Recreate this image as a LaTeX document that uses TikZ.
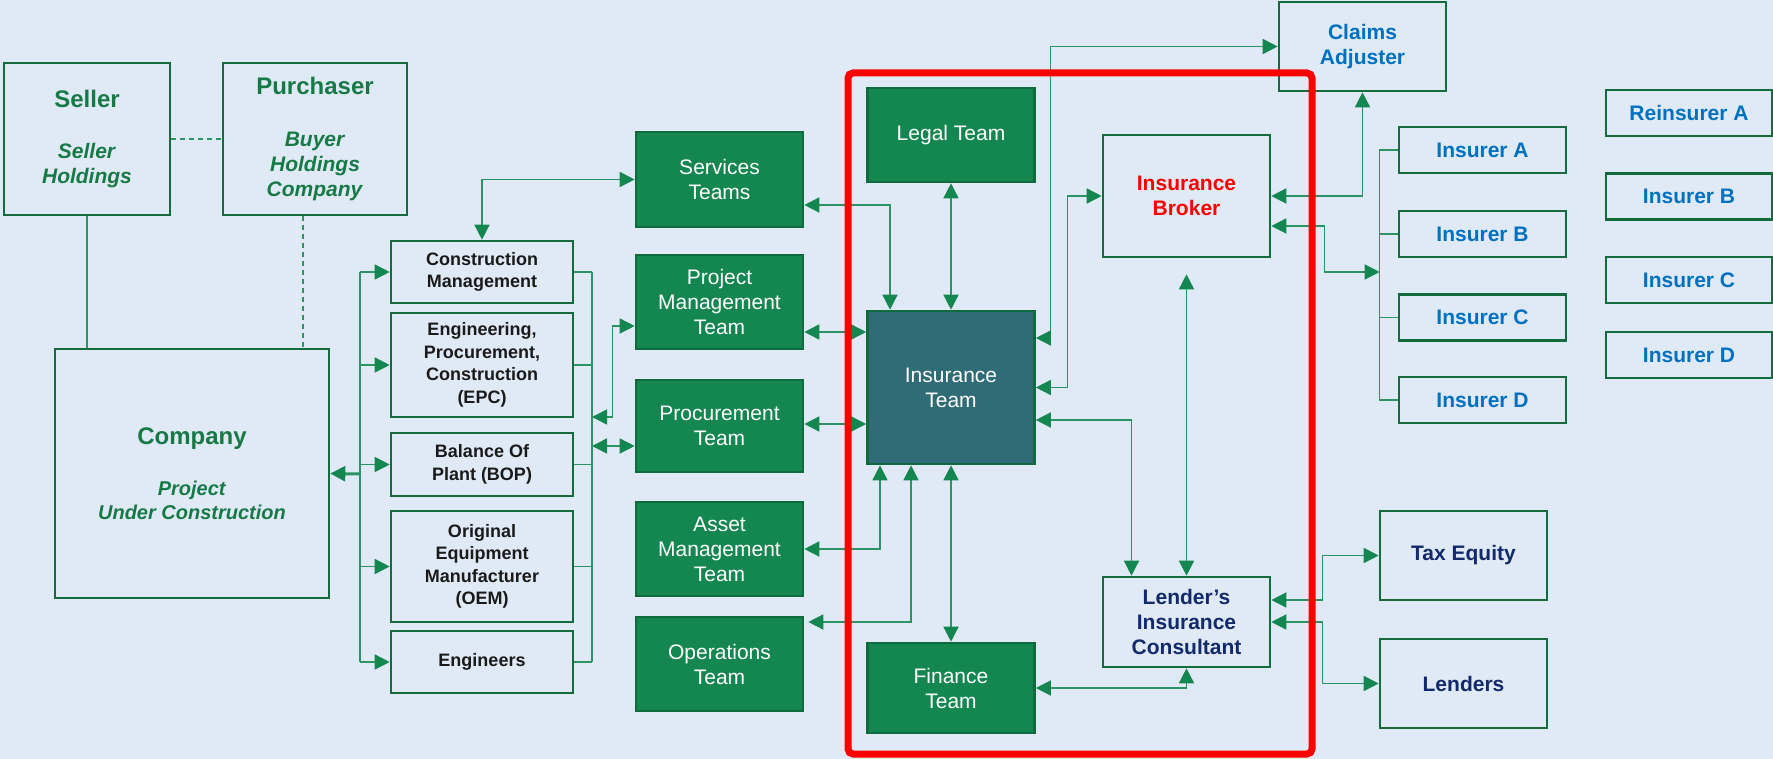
\documentclass[tikz,border=0pt]{standalone}
\usepackage{fontspec}
\setmainfont{Liberation Sans}
\usetikzlibrary{arrows.meta,calc}
\definecolor{bg}{HTML}{E0EAF6}
\definecolor{boxline}{HTML}{146B3E}
\definecolor{gfill}{HTML}{13874F}
\definecolor{gline}{HTML}{0F6B3D}
\definecolor{tfill}{HTML}{2F6C76}
\definecolor{gtext}{HTML}{177A46}
\definecolor{ktext}{HTML}{1A1A1A}
\definecolor{btext}{HTML}{0070C0}
\definecolor{ntext}{HTML}{12296B}
\definecolor{lineg}{HTML}{2A9563}
\definecolor{arrg}{HTML}{13874F}
\newcommand\fWhite{\fontsize{21}{25}\selectfont}
\newcommand\fBold{\fontsize{21}{25}\selectfont\bfseries}
\newcommand\fBlack{\fontsize{18}{22.5}\selectfont\bfseries}
\begin{document}
\begin{tikzpicture}[x=1pt,y=-1pt,
  sz/.style 2 args={minimum width=#1pt, minimum height=#2pt},
  obox/.style={draw=boxline, line width=2.6pt, fill=bg, align=center, inner sep=0pt},
  hbox/.style={obox, text=gtext, font=\fBold},
  kbox/.style={obox, text=ktext, font=\fBlack},
  bbox/.style={obox, text=btext, font=\fBold},
  nbox/.style={obox, text=ntext, font=\fBold},
  rbox/.style={obox, text=red, font=\fBold},
  gbox/.style={draw=gline, line width=2.6pt, fill=gfill, text=white, align=center, inner sep=0pt, font=\fWhite},
  tbox/.style={gbox, fill=tfill},
  conn/.style={draw=lineg, line width=1.5pt},
  dline/.style={conn, dash pattern=on 5pt off 4pt},
  >={Triangle[length=15pt,width=15pt,color=arrg]},
  redframe/.style={draw=red, line width=7pt, rounded corners=5pt}
]
\useasboundingbox (0,0) rectangle (1773,759);
\fill[bg] (0,0) rectangle (1773,759);

% left group
\node[hbox, sz={166}{152}] (seller) at (87,139) {{\fontsize{24}{25}\selectfont Seller}\\[26pt]\textit{Seller}\\\textit{Holdings}};
\node[hbox, sz={184}{152}] (purchaser) at (315,139) {{\fontsize{24}{25}\selectfont Purchaser}\\[27pt]\textit{Buyer}\\\textit{Holdings}\\\textit{Company}};
\node[hbox, sz={274}{249}, font=\fontsize{20}{23.5}\selectfont\bfseries] (company) at (192,473.5) {{\fontsize{24}{25}\selectfont Company}\\[28pt]\textit{Project}\\\textit{Under Construction}};

\node[kbox, sz={182}{62}] (cm) at (482,272) {Construction\\Management};
\node[kbox, sz={182}{104}] (epc) at (482,365) {Engineering,\\Procurement,\\Construction\\(EPC)};
\node[kbox, sz={182}{63}] (bop) at (482,464.5) {Balance Of\\Plant (BOP)};
\node[kbox, sz={182}{111}] (oem) at (482,566.5) {Original\\Equipment\\Manufacturer\\(OEM)};
\node[kbox, sz={182}{62}] (eng) at (482,662) {Engineers};

% team column
\node[gbox, sz={167}{95}] (services) at (719.5,179.5) {Services\\Teams};
\node[gbox, sz={167}{94}] (pm) at (719.5,302) {Project\\Management\\Team};
\node[gbox, sz={167}{92}] (proc) at (719.5,426) {Procurement\\Team};
\node[gbox, sz={167}{94}] (asset) at (719.5,549) {Asset\\Management\\Team};
\node[gbox, sz={167}{94}] (ops) at (719.5,664) {Operations\\Team};

% inside red frame
\node[gbox, sz={167}{94}] (legal) at (951,135) {Legal Team};
\node[tbox, sz={167}{153}] (ins) at (951,387.5) {Insurance\\Team};
\node[gbox, sz={167}{90}] (fin) at (951,688) {Finance\\Team};
\node[rbox, sz={167}{122}] (broker) at (1186.5,196) {Insurance\\Broker};
\node[nbox, sz={167}{90}] (lender) at (1186.5,622) {Lender’s\\Insurance\\Consultant};

% right side
\node[bbox, sz={167}{89}] (claims) at (1362.5,46.5) {Claims\\Adjuster};
\node[bbox, sz={167}{46}] (insA) at (1482.5,150) {Insurer A};
\node[bbox, sz={167}{46}] (insB) at (1482.5,234) {Insurer B};
\node[bbox, sz={167}{46}] (insC) at (1482.5,317.5) {Insurer C};
\node[bbox, sz={167}{46}] (insD) at (1482.5,400) {Insurer D};
\node[bbox, sz={166}{46}] (reA) at (1689,113) {Reinsurer A};
\node[bbox, sz={166}{46}] (reB) at (1689,196.5) {Insurer B};
\node[bbox, sz={166}{46}] (reC) at (1689,280) {Insurer C};
\node[bbox, sz={166}{46}] (reD) at (1689,355) {Insurer D};
\node[nbox, sz={167}{89}] (taxeq) at (1463.5,555.5) {Tax Equity};
\node[nbox, sz={167}{89}] (lenders) at (1463.5,683.5) {Lenders};

% ownership lines
\draw[dline] (seller.east) -- (purchaser.west);
\draw[conn] (seller.south) -- (seller.south |- company.north);
\draw[dline] ($(purchaser.south)+(-12,0)$) -- ($(purchaser.south |- company.north)+(-12,0)$);

% left bus
\coordinate (lb) at (360,474);
\draw[conn] (lb |- cm.west) -- (lb |- eng.west);
\foreach \n in {cm,epc,bop,oem,eng} \draw[conn,->] (lb |- \n.west) -- (\n.west);
\draw[conn, line width=3pt, ->] (lb) -- (company.east);

% right bus
\coordinate (rb) at (592,0);
\draw[conn] (rb |- cm.east) -- (rb |- eng.east);
\foreach \n in {cm,epc,bop,oem,eng} \draw[conn] (\n.east) -- (rb |- \n.east);
\coordinate (rbpm) at (592,417);
\draw[conn,<->] (rbpm) -| ($(pm.west)+(-22,24)$) -- ($(pm.west)+(0,24)$);
\coordinate (rbpr) at (592,446);
\draw[conn,<->] (rbpr) -- (rbpr -| proc.west);
\draw[conn,<->] (cm.north) |- (services.west);

% teams to insurance team
\draw[conn,<->] ($(services.east)+(0,25.5)$) -| ($(ins.north)+(-61,0)$);
\coordinate (insPM) at ($(ins.west)+(0,-55.5)$);
\draw[conn,<->] (insPM -| pm.east) -- (insPM);
\coordinate (insPR) at ($(ins.west)+(0,36.5)$);
\draw[conn,<->] (insPR -| proc.east) -- (insPR);
\draw[conn,<->] (asset.east) -| ($(ins.south)+(-71,0)$);
\draw[conn,<->] ($(ops.east)+(4,-42)$) -| ($(ins.south)+(-40,0)$);
\draw[conn,<->] (legal.south) -- (ins.north);
\draw[conn,<->] (ins.south) -- (fin.north);

% insurance team to the right
\draw[conn,<->] ($(ins.east)+(0,-49.5)$) -| ($(claims.west)+(-227,0)$) -- (claims.west);
\draw[conn,<->] (ins.east) -| ($(broker.west)+(-34,0)$) -- (broker.west);
\draw[conn,<->] ($(ins.east)+(0,32.5)$) -| ($(lender.north)+(-55,0)$);
\draw[conn,<->] ($(lender.north |- broker.south)+(0,16)$) -- (lender.north);
\draw[conn,<->] (fin.east) -| (lender.south);

% broker connections
\draw[conn,<->] (broker.east) -| (claims.south);
\coordinate (ibus) at ($(insA.west)+(-18,122)$);
\draw[conn,<->] ($(broker.east)+(0,30)$) -| ($(ibus)+(-55,0)$) -- (ibus);
\draw[conn] (insA.west) -| ($(insD.west)+(-18,0)$) -- (insD.west);
\draw[conn] (insB.west) -- ++(-18,0);
\draw[conn] (insC.west) -- ++(-18,0);

% lender consultant connections
\draw[conn,<->] ($(lender.east)+(0,-22)$) -| ($(taxeq.west)+(-56,0)$) -- (taxeq.west);
\draw[conn,<->] (lender.east) -| ($(lenders.west)+(-56,0)$) -- (lenders.west);

% red frame
\draw[redframe] (848,73) rectangle (1312,754);
\end{tikzpicture}
\end{document}
